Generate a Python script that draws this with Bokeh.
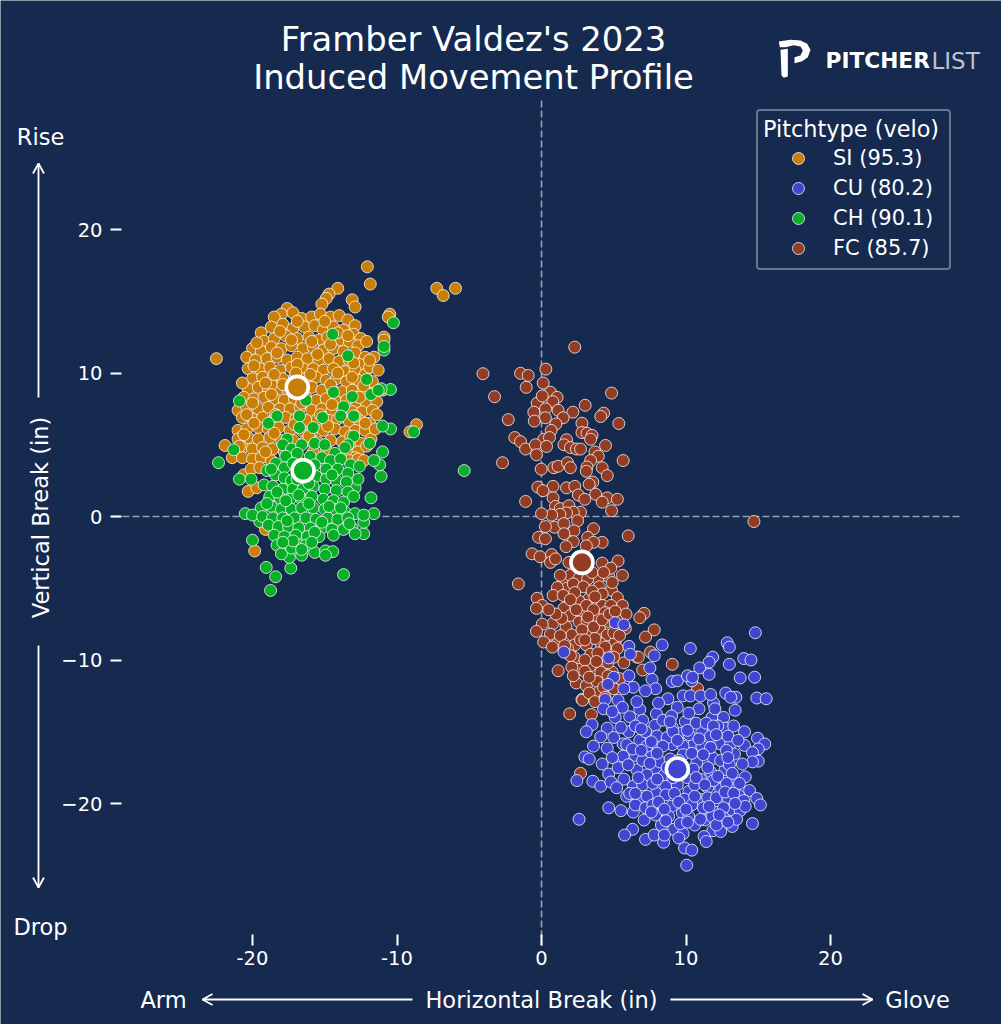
from bokeh.plotting import figure
from bokeh.models import Legend, LegendItem, FixedTicker
from bokeh.core.properties import value
from bokeh.embed import file_html
from bokeh.resources import INLINE

BG = "#152A4E"
SI_COLOR, CU_COLOR, CH_COLOR, FC_COLOR = "#C97E08", "#4046D2", "#08B028", "#923C24"

x_ticks = [-20, -10, 0, 10, 20]
y_ticks = [-20, -10, 0, 10, 20]
legend_title = "Pitchtype (velo)"
legend_labels = ["SI (95.3)", "CU (80.2)", "CH (90.1)", "FC (85.7)"]

si_mean = (-16.9, 9.0)
cu_mean = (9.4, -17.6)
ch_mean = (-16.5, 3.2)
fc_mean = (2.8, -3.2)

si_points = [
(-22.5,11.0),(-12.05,17.4),(-11.85,16.2),(-7.25,15.9),(-6.8,15.4),(-5.95,15.9),(-14.1,15.9),(-14.7,15.5),(-14.9,15.2),(-15.2,14.8),
(-13.1,15.1),(-12.9,14.6),(-10.5,14.1),(-10.6,13.9),(-10.9,12.5),(-10.9,12.3),(-8.65,6.4),(-9.1,5.9),(-21.9,4.95),(-19.85,-2.4),
(-20.3,1.75),(-20.6,2.9),(-17.6,14.5),(-18.0,14.1),(-17.2,14.2),(-18.5,13.9),(-16.6,13.8),(-15.9,13.9),(-15.3,14.1),(-14.6,13.9),
(-14.0,14.0),(-13.4,13.7),(-12.9,13.3),(-19.4,12.8),(-18.7,13.2),(-17.9,13.4),(-17.2,13.1),(-16.4,13.2),(-15.7,13.3),(-15.1,13.0),
(-14.4,13.2),(-13.7,13.0),(-13.0,12.7),(-12.5,12.4),(-19.2,12.2),(-18.5,12.4),(-17.7,12.6),(-16.9,12.4),(-16.1,12.5),(-15.4,12.3),
(-14.8,12.5),(-14.0,12.3),(-13.3,12.2),(-12.7,11.9),(-20.0,11.7),(-19.4,11.5),(-18.7,11.8),(-18.0,11.7),(-17.3,11.9),(-16.5,11.7),
(-15.8,11.8),(-15.1,11.6),(-14.4,11.7),(-13.7,11.5),(-12.9,11.4),(-12.2,11.1),(-20.4,11.1),(-19.8,10.9),(-19.0,11.0),(-18.3,11.1),
(-17.6,10.9),(-16.9,11.1),(-16.2,11.0),(-15.4,10.9),(-14.7,11.0),(-14.0,10.8),(-13.3,10.9),(-12.6,10.6),(-11.6,11.1),(-20.3,10.3),
(-19.5,10.3),(-18.8,10.4),(-18.1,10.2),(-17.3,10.4),(-16.5,10.3),(-15.8,10.3),(-15.1,10.2),(-14.4,10.3),(-13.6,10.1),(-12.9,10.2),
(-12.2,9.9),(-11.9,10.4),(-20.0,9.6),(-19.3,9.7),(-18.6,9.6),(-17.9,9.6),(-17.1,9.7),(-16.4,9.6),(-15.6,9.7),(-14.9,9.5),
(-14.2,9.6),(-13.5,9.4),(-12.7,9.5),(-12.0,9.2),(-20.3,8.9),(-19.6,9.0),(-18.9,8.9),(-18.2,8.9),(-17.5,8.8),(-16.7,8.8),
(-15.9,9.0),(-15.2,8.8),(-14.5,8.9),(-13.8,8.7),(-13.1,8.8),(-12.4,8.6),(-11.6,8.5),(-11.0,8.8),(-20.6,8.3),(-19.9,8.2),
(-19.2,8.3),(-18.5,8.2),(-17.8,8.1),(-17.1,8.2),(-16.3,8.3),(-15.6,8.1),(-14.9,8.2),(-14.2,8.0),(-13.5,8.1),(-12.8,8.0),
(-12.1,7.9),(-11.4,8.0),(-21.0,7.4),(-20.4,7.6),(-19.6,7.5),(-18.9,7.6),(-18.1,7.5),(-17.4,7.5),(-16.7,7.6),(-15.9,7.4),
(-15.2,7.5),(-14.5,7.4),(-13.8,7.5),(-13.1,7.3),(-12.4,7.3),(-11.7,7.4),(-20.7,6.9),(-20.0,6.8),(-19.3,6.9),(-18.5,6.8),
(-17.7,6.9),(-17.0,6.8),(-16.3,6.7),(-15.5,6.8),(-14.7,6.7),(-14.1,6.8),(-13.3,6.6),(-12.6,6.7),(-11.9,6.5),(-21.0,6.0),
(-20.4,6.1),(-19.6,6.2),(-18.9,6.1),(-18.2,6.2),(-17.4,6.0),(-16.6,6.0),(-15.9,5.9),(-15.1,6.0),(-14.3,6.1),(-13.6,5.9),
(-12.9,6.0),(-12.2,6.0),(-11.8,5.4),(-21.0,5.4),(-20.3,5.5),(-19.6,5.4),(-18.8,5.5),(-18.0,5.3),(-17.2,5.3),(-16.4,5.2),
(-15.5,5.2),(-14.6,5.3),(-13.8,5.2),(-13.1,5.2),(-12.5,5.1),(-20.7,4.8),(-20.0,4.7),(-19.3,4.8),(-18.6,4.7),(-17.8,4.5),
(-13.4,4.6),(-12.7,4.5),(-12.9,4.1),(-21.4,4.1),(-20.7,4.1),(-20.0,4.0),(-19.4,4.1),(-18.7,3.9),(-13.3,3.9),(-20.1,3.3),
(-19.5,3.4),(-19.7,2.0),(-18.8,1.3),(-19.1,-0.9),(-12.7,4.0),(-17.0,3.9),(-15.8,4.5),(-14.9,4.6),(-16.0,9.9),(-18.7,9.2),
(-18.1,12.9),(-16.9,13.6),(-15.0,13.6),(-14.1,12.8),(-13.4,12.6),(-12.1,12.2),(-11.9,10.9),(-11.3,10.2),(-19.7,12.1),(-17.3,12.3),
(-15.9,12.2),(-14.6,12.0),(-18.3,11.4),(-16.9,10.6),(-15.5,11.3),(-13.0,10.7),(-19.9,10.5),(-18.5,9.9),(-17.0,10.0),(-14.1,10.0),
(-13.1,9.7),(-11.7,9.4),(-20.7,9.3),(-19.1,9.3),(-17.9,9.2),(-14.6,9.2),(-12.3,9.1),(-20.0,7.9),(-18.7,8.5),(-16.6,7.9),
(-14.5,7.8),(-12.6,8.3),(-11.4,7.1),(-20.4,7.1),(-18.4,7.1),(-15.3,7.1),(-12.9,7.0),(-12.2,6.5),(-19.9,6.5),(-17.1,6.4),
(-14.8,6.3),(-11.5,6.1),(-20.6,5.7),(-18.5,5.8),(-16.1,5.6),(-13.2,5.6),(-12.1,4.9),(-20.9,4.9),(-19.1,4.5),(-12.3,3.9),
]

ch_points = [
(-22.35,3.75),(-5.35,3.2),(-10.25,13.5),(-14.45,12.7),(-10.9,11.6),(-10.9,11.85),(-10.45,8.85),(-11.1,8.9),(-13.7,-4.05),(-18.75,-5.15),
(-19.05,-3.55),(-18.4,-4.2),(-17.35,-3.6),(-20.0,-1.65),(-20.9,8.05),(-20.5,0.2),(-8.85,5.9),(-21.3,4.65),(-20.9,2.6),(-20.1,2.6),
(-19.5,-0.35),(-15.7,-2.5),(-14.95,-2.4),(-14.45,-2.45),(-14.95,-2.7),(-16.6,-2.7),(-17.45,-2.85),(-12.3,-1.2),(-13.1,-0.8),(-12.3,-0.4),
(-11.6,0.2),(-11.8,1.3),(-12.9,2.0),(-12.7,2.6),(-11.1,2.8),(-11.2,3.6),(-11.6,3.9),(-11.0,4.5),(-11.9,5.1),(-10.45,6.1),
(-11.0,6.3),(-11.8,8.5),(-11.3,8.8),(-12.1,9.55),(-13.4,11.2),(-14.4,8.65),(-13.1,8.35),(-13.7,7.65),(-13.9,7.0),(-13.0,7.0),
(-15.15,6.9),(-16.75,7.0),(-18.3,7.0),(-18.9,6.5),(-15.8,6.2),(-16.75,6.2),(-16.3,8.1),(-13.0,5.6),(-13.4,5.0),(-13.6,4.8),
(-17.6,5.4),(-17.9,5.0),(-17.3,4.7),(-16.6,5.0),(-15.7,5.1),(-15.0,5.0),(-14.3,4.4),(-17.7,4.2),(-16.9,4.4),(-16.0,4.2),
(-15.2,4.1),(-14.6,3.9),(-13.9,4.0),(-13.2,3.6),(-12.6,3.5),(-18.4,3.7),(-17.8,3.4),(-17.2,3.7),(-15.7,3.6),(-14.9,3.3),
(-14.1,3.3),(-13.4,3.0),(-19.0,3.2),(-18.4,2.9),(-17.8,2.7),(-17.3,2.5),(-15.6,2.8),(-14.9,2.6),(-14.2,2.5),(-13.5,2.4),
(-19.2,2.2),(-18.6,2.1),(-17.9,1.9),(-17.2,1.9),(-16.5,1.9),(-15.8,2.1),(-15.0,1.9),(-14.2,1.8),(-13.4,1.7),(-18.8,1.4),
(-18.1,1.3),(-17.4,1.2),(-16.6,1.2),(-15.9,1.4),(-15.1,1.2),(-14.4,1.1),(-13.7,1.0),(-19.4,0.6),(-18.7,0.7),(-18.0,0.5),
(-17.3,0.5),(-16.6,0.6),(-15.8,0.6),(-15.0,0.5),(-14.3,0.5),(-13.6,0.3),(-12.9,0.2),(-12.3,0.1),(-20.0,0.1),(-19.3,0.0),
(-18.6,-0.1),(-17.9,-0.1),(-17.1,-0.1),(-16.3,-0.1),(-15.6,-0.2),(-14.8,-0.1),(-14.1,-0.2),(-13.4,-0.1),(-18.9,-0.6),(-18.2,-0.7),
(-17.5,-0.7),(-16.8,-0.8),(-16.0,-0.8),(-15.2,-0.8),(-14.5,-0.9),(-13.7,-0.9),(-12.9,-1.2),(-18.5,-1.3),(-17.8,-1.4),(-17.0,-1.3),
(-16.2,-1.4),(-15.4,-1.4),(-18.3,-2.0),(-17.5,-2.1),(-16.8,-2.0),(-18.0,-2.6),(-17.3,-2.2),(-16.3,-2.0),(-15.7,-1.1),(-13.3,-0.5),
(-18.7,3.3),(-16.3,3.0),(-14.5,2.9),(-13.0,1.4),(-16.9,2.6),(-16.1,2.3),(-18.3,1.7),(-17.7,1.1),(-16.1,0.9),(-14.7,0.7),
(-19.0,0.9),(-17.6,-0.3),(-15.2,-0.4),(-14.4,-1.3),(-17.2,-1.7),(-16.6,-2.3),(-15.9,-1.8),(-17.9,-1.8),(-13.9,0.6),(-16.8,1.5),
]

fc_points = [
(2.3,11.8),(-4.05,9.95),(-1.45,9.98),(-0.92,9.83),(-1.06,9.0),(0.3,10.27),(0.12,9.3),(-3.25,8.35),(4.85,8.6),(0.62,8.66),
(1.08,8.3),(-0.3,7.9),(0.78,8.0),(0.05,8.4),(3.02,7.75),(4.3,7.2),(4.1,6.97),(2.17,7.27),(1.15,7.4),(-0.53,7.27),
(0.28,7.5),(1.5,6.88),(0.27,6.88),(-0.5,6.65),(-2.3,6.75),(1.0,6.45),(5.35,6.48),(2.8,6.5),(0.67,6.0),(-1.85,5.5),
(-1.45,5.22),(0.15,5.38),(-1.1,4.7),(-0.42,5.0),(0.55,5.5),(0.35,4.88),(-0.35,4.3),(1.73,5.35),(1.55,5.0),(2.0,4.8),
(2.42,4.7),(2.7,4.7),(2.8,5.85),(3.15,5.8),(3.5,5.65),(3.4,5.38),(4.43,4.95),(3.7,4.5),(3.93,4.2),(3.4,3.9),
(5.65,3.9),(-2.7,3.75),(-0.02,3.3),(0.85,3.4),(1.15,3.5),(1.8,3.75),(2.0,3.4),(3.15,3.45),(3.1,3.15),(4.2,3.4),
(4.55,2.85),(3.55,2.4),(3.3,2.25),(0.8,2.1),(-0.25,2.05),(0.1,1.8),(1.73,2.0),(2.3,2.1),(2.55,1.5),(0.8,1.3),
(-1.1,1.05),(3.75,1.55),(3.0,1.2),(4.55,1.3),(4.2,1.0),(5.25,1.2),(4.85,0.4),(0.97,0.7),(1.3,0.55),(1.9,0.75),
(2.7,0.3),(2.2,0.3),(1.73,0.25),(1.27,0.15),(0.7,0.1),(0.0,0.2),(2.5,-0.3),(0.9,-0.75),(1.55,-0.5),(0.27,-0.7),
(3.6,-0.85),(6.0,-1.35),(2.25,-1.0),(-0.2,-1.45),(0.27,-1.55),(1.55,-1.2),(3.2,-1.45),(4.2,-1.8),(3.6,-1.8),(2.2,-1.75),
(3.1,-2.05),(1.7,-2.1),(-0.65,-2.6),(-0.1,-2.8),(0.7,-2.65),(0.62,-3.2),(0.97,-2.95),(1.9,-3.2),(5.3,-3.1),(4.2,-3.25),
(5.6,-4.1),(4.65,-4.2),(3.9,-4.35),(1.55,-4.45),(2.0,-4.1),(2.6,-4.3),(-1.6,-4.7),(3.2,-4.35),(4.8,-3.6),(4.0,-4.9),
(4.85,-5.15),(1.73,-5.0),(1.1,-4.95),(0.8,-5.5),(1.5,-5.5),(3.3,-5.7),(2.6,-5.9),(-0.3,-5.7),(0.05,-6.2),(-0.35,-6.4),
(5.25,-5.65),(4.2,-5.4),(5.6,-6.2),(4.2,-6.2),(4.8,-6.2),(1.55,-6.4),(2.7,-6.55),(2.0,-6.9),(5.85,-6.8),(7.1,-6.75),
(6.8,-7.05),(3.8,-6.95),(2.6,-7.35),(3.15,-7.25),(0.8,-7.45),(0.05,-7.5),(1.7,-7.7),(-0.35,-8.0),(0.62,-8.2),(4.0,-7.8),
(5.8,-7.8),(7.8,-7.9),(7.2,-8.4),(4.55,-8.25),(2.1,-8.25),(3.3,-8.25),(0.15,-8.75),(1.05,-8.9),(2.3,-8.95),(3.1,-8.95),
(4.1,-8.85),(5.1,-8.75),(0.75,-9.1),(3.4,-9.6),(2.25,-9.8),(6.6,-9.8),(4.65,-9.55),(5.25,-9.2),(9.05,-10.3),(1.15,-10.75),
(2.6,-10.65),(4.1,-10.85),(3.4,-10.4),(2.4,-11.6),(3.1,-11.8),(3.85,-11.5),(3.95,-12.25),(2.8,-12.75),(1.95,-13.75),(2.85,-12.8),
(3.45,-13.8),(2.7,-17.9),(10.8,-12.0),(6.7,-9.8),(7.55,-9.45),(7.0,-10.7),(4.9,-10.85),(14.7,-0.35),(2.2,-4.7),(2.9,-4.9),
(3.5,-5.2),(2.3,-5.3),(3.7,-5.6),(2.0,-5.8),(3.1,-6.2),(3.6,-6.5),(4.4,-6.7),(2.4,-6.5),(3.2,-7.0),(4.6,-7.3),
(5.2,-7.2),(3.6,-7.7),(2.8,-7.9),(5.0,-8.1),(3.7,-8.5),(2.7,-8.6),(4.4,-9.1),(3.0,-10.0),(5.4,-8.3),(1.8,-9.2),
(2.0,-9.7),(3.9,-9.5),(4.6,-10.2),(5.0,-9.8),(5.7,-10.2),(2.1,-10.5),(3.0,-10.8),(4.6,-11.1),(5.4,-11.3),(2.2,-11.1),
(3.3,-11.2),(4.3,-11.9),(5.0,-12.0),(3.3,-12.3),(3.7,-12.9),(4.4,-12.6),(1.3,-8.3),(1.6,-9.0),(3.8,-10.1),(1.4,-7.1),
(3.0,-8.6),(4.2,-7.2),(4.7,-6.8),(1.0,-6.8),(5.1,-6.6),(0.5,-6.5),(4.9,-4.6),(1.3,-4.1),(3.5,-3.9),(4.3,-3.9),
]

cu_points = [
(14.8,-8.1),(12.85,-8.8),(13.0,-9.1),(10.3,-9.2),(8.35,-8.95),(6.05,-9.05),(6.15,-9.6),(7.8,-9.7),(5.1,-7.4),(5.7,-7.55),
(1.55,-9.45),(4.65,-9.85),(11.85,-9.8),(11.6,-10.15),(10.95,-10.55),(11.6,-11.0),(13.0,-10.3),(14.0,-9.9),(14.5,-10.0),(13.75,-11.25),
(14.75,-11.2),(14.9,-12.65),(15.55,-12.7),(12.75,-12.3),(13.45,-12.6),(13.1,-12.6),(13.4,-13.5),(5.0,-11.2),(4.6,-11.7),(6.05,-11.1),
(6.35,-11.9),(7.65,-11.35),(7.5,-10.55),(9.05,-11.5),(9.4,-11.45),(10.4,-11.45),(10.1,-11.1),(10.45,-11.2),(7.9,-12.0),(7.2,-12.15),
(5.7,-12.0),(8.75,-12.7),(4.4,-12.75),(5.3,-12.8),(9.8,-12.5),(10.3,-12.5),(11.0,-12.5),(11.9,-13.0),(11.7,-12.4),(6.8,-13.45),
(7.95,-13.75),(10.9,-13.4),(4.3,-13.4),(5.1,-14.0),(6.1,-13.95),(7.0,-14.2),(9.95,-14.3),(11.8,-14.0),(12.6,-14.0),(3.5,-14.5),
(3.1,-15.0),(4.55,-14.75),(7.85,-14.55),(9.05,-14.7),(11.1,-15.0),(12.75,-14.75),(14.05,-15.0),(14.95,-15.45),(15.45,-15.85),(15.0,-16.2),
(14.05,-15.95),(3.6,-16.0),(4.55,-16.15),(5.65,-15.85),(6.8,-15.6),(6.05,-15.0),(4.1,-15.35),(10.55,-15.85),(12.4,-15.85),(13.1,-15.8),
(3.0,-16.75),(3.3,-16.9),(4.2,-17.25),(5.65,-16.7),(6.5,-16.65),(7.65,-16.6),(9.05,-15.9),(11.9,-16.85),(13.35,-16.55),(14.6,-16.45),
(15.0,-17.05),(14.6,-17.1),(13.9,-17.25),(10.75,-17.15),(7.9,-17.6),(6.6,-17.65),(4.65,-17.95),(2.45,-18.4),(3.55,-18.45),(4.1,-18.8),
(4.8,-18.5),(5.7,-18.3),(6.35,-18.8),(14.1,-18.15),(12.7,-17.65),(11.0,-18.3),(13.3,-18.55),(11.5,-18.9),(12.4,-19.0),(14.4,-19.1),
(13.65,-19.45),(14.9,-19.65),(15.15,-20.1),(4.65,-20.3),(5.5,-20.5),(5.9,-19.5),(7.95,-19.3),(10.2,-19.15),(6.7,-19.7),(8.3,-20.45),
(9.75,-20.65),(10.95,-19.7),(12.0,-20.6),(13.2,-20.45),(13.75,-20.5),(6.35,-20.6),(7.1,-21.15),(8.3,-21.5),(2.6,-21.1),(9.15,-21.8),
(11.3,-21.15),(10.6,-21.5),(13.2,-21.6),(14.6,-21.4),(11.85,-21.9),(12.4,-21.95),(6.3,-21.8),(5.75,-22.2),(7.2,-22.5),(7.8,-22.2),
(8.45,-22.7),(8.5,-22.2),(9.8,-22.1),(11.25,-22.3),(11.4,-22.65),(9.9,-23.1),(10.4,-23.25),(10.05,-24.3),(6.6,-12.9),(8.1,-13.0),
(9.4,-13.3),(10.2,-13.7),(12.0,-13.4),(5.6,-13.3),(4.9,-13.6),(6.5,-14.6),(5.5,-14.7),(8.4,-14.2),(9.0,-13.9),(10.7,-14.4),
(11.4,-14.4),(12.2,-14.6),(13.3,-14.6),(7.2,-15.0),(8.0,-15.3),(8.7,-15.4),(9.7,-15.1),(10.2,-15.2),(11.7,-15.3),(12.9,-15.3),
(13.6,-15.6),(5.0,-15.4),(5.9,-15.9),(6.3,-16.2),(7.3,-16.0),(8.4,-16.0),(9.8,-16.0),(11.1,-16.0),(11.7,-16.1),(12.8,-16.3),
(4.9,-16.8),(7.0,-17.0),(8.2,-17.1),(8.9,-16.9),(9.8,-16.6),(10.4,-16.5),(12.4,-17.0),(13.0,-17.3),(5.3,-17.5),(6.0,-17.3),
(7.3,-18.0),(8.5,-18.0),(10.1,-18.2),(11.7,-17.8),(13.2,-17.9),(5.2,-18.9),(7.0,-18.7),(7.7,-18.6),(8.6,-18.8),(9.4,-18.7),
(10.6,-18.7),(11.9,-18.4),(12.8,-18.6),(6.1,-19.3),(7.3,-19.5),(8.6,-19.4),(9.2,-19.3),(9.9,-19.7),(11.5,-19.6),(12.1,-19.6),
(12.9,-19.6),(14.0,-19.8),(6.5,-20.1),(7.2,-20.3),(7.7,-20.1),(9.0,-20.2),(10.4,-20.1),(11.2,-20.3),(12.6,-20.3),(14.1,-20.2),
(7.9,-20.8),(8.8,-20.9),(10.2,-20.9),(11.8,-20.9),(12.6,-21.0),(13.5,-21.1),(9.6,-21.4),(12.1,-21.5),(9.5,-22.4),(9.1,-15.0),
(6.9,-14.8),(8.9,-14.3),(10.1,-14.9),(11.9,-14.6),(7.6,-15.7),(9.4,-15.6),(10.9,-15.5),(12.1,-15.2),(6.9,-16.3),(8.0,-16.5),
(9.5,-17.0),(11.2,-16.6),(12.9,-16.8),(7.5,-17.2),(8.7,-17.5),(10.5,-17.6),(11.5,-17.5),(12.2,-18.1),(6.7,-18.2),(8.0,-18.3),
(9.1,-18.2),(10.7,-18.2),(11.3,-18.7),(13.7,-18.6),(6.5,-19.3),(8.1,-19.9),(9.5,-19.9),(10.6,-19.5),(12.7,-19.2),(13.3,-19.3),
(7.6,-20.6),(8.5,-20.4),(10.0,-20.4),(11.6,-20.2),(12.3,-20.8),(13.4,-20.0),(8.6,-21.2),(10.1,-21.3),(11.0,-21.1),(12.9,-21.3),
]


def fx(px):
    return (px - 541.0) / 14.45


def fy(py):
    return (516.0 - py) / 14.35


p = figure(width=1001, height=1024, output_backend="svg", toolbar_location=None,
           x_range=(fx(0), fx(1001)), y_range=(fy(1024), fy(0)),
           background_fill_color=BG, border_fill_color=BG,
           min_border=0, min_border_left=0, min_border_right=0, min_border_top=0, min_border_bottom=0)
p.grid.visible = False
p.outline_line_color = None

label_font = "DejaVu Sans"
p.xaxis[0].fixed_location = fy(945)
p.yaxis[0].fixed_location = fx(110)
for ax, ticks, overrides, standoff in (
        (p.xaxis[0], x_ticks, {-20: "-20", -10: "-10"}, 5),
        (p.yaxis[0], y_ticks, {-20: "\u221220", -10: "\u221210"}, 8)):
    ax.ticker = FixedTicker(ticks=ticks)
    ax.major_label_overrides = overrides
    ax.axis_line_color = None
    ax.minor_tick_line_color = None
    ax.major_tick_in = 11
    ax.major_tick_out = 0
    ax.major_tick_line_color = "white"
    ax.major_tick_line_width = 2
    ax.major_label_text_color = "white"
    ax.major_label_text_font = label_font
    ax.major_label_text_font_size = "19.5px"
    ax.major_label_standoff = standoff

p.segment([0, fx(112)], [fy(100), 0], [0, fx(960)], [fy(945), 0], line_color="white", line_alpha=0.55,
          line_width=1.6, line_dash="7 3", level="underlay")


def draw(points, color):
    xs = [a for a, _ in points]
    ys = [b for _, b in points]
    return p.scatter(xs, ys, size=12, fill_color=color, line_color="white",
                     line_alpha=0.75, line_width=1.0)


r_si = draw(si_points, SI_COLOR)
r_fc = draw(fc_points, FC_COLOR)
r_ch = draw(ch_points, CH_COLOR)
r_cu = draw(cu_points, CU_COLOR)

for mean, color in ((si_mean, SI_COLOR), (cu_mean, CU_COLOR), (ch_mean, CH_COLOR), (fc_mean, FC_COLOR)):
    p.scatter([mean[0]], [mean[1]], size=22, fill_color=color, line_color="white", line_width=3.6)

legend = Legend(items=[LegendItem(label=t, renderers=[r]) for t, r in
                       zip(legend_labels, (r_si, r_cu, r_ch, r_fc))],
                title=legend_title, location=(756, 754), orientation="vertical",
                background_fill_color=BG, background_fill_alpha=1.0,
                border_line_color="#B8BFCB", border_line_width=2,
                label_text_color="white", label_text_font=label_font, label_text_font_size="21px",
                title_text_color="white", title_text_font=label_font, title_text_font_size="22.4px",
                title_text_font_style="normal", title_standoff=1,
                glyph_width=70, glyph_height=30, label_height=30, label_standoff=0, label_width=111,
                spacing=0, padding=5, margin=0)
if "border_radius" in Legend.properties():
    legend.border_radius = 4
p.add_layout(legend)


def text(px, py, s, size, angle=0.0, font=label_font, style="normal", align="center", alpha=1.0):
    p.text([fx(px)], [fy(py)], text=[s], text_color="white", text_alpha=alpha,
           text_font=value(font), text_font_size=size, text_font_style=style,
           text_align=align, text_baseline="middle", angle=angle)


text(473, 38.5, "Framber Valdez's 2023", "33.8px")
text(473, 76.5, "Induced Movement Profile", "33.8px")
text(40, 136, "Rise", "22.5px")
text(40, 926, "Drop", "22.5px")
text(40, 517, "Vertical Break (in)", "22.5px", angle=1.5708)
text(163, 999, "Arm", "22.5px")
text(541, 999, "Horizontal Break (in)", "22.5px")
text(917, 999, "Glove", "22.5px")
text(825, 60, "PITCHER", "21.7px", style="bold", align="left")
text(931, 60, "LIST", "23px", align="left", alpha=0.72)

# Arrows: shaft and open vee head
for x0, y0, x1, y1 in ((38, 397, 38, 163), (38, 645, 38, 887), (412, 999, 202, 999), (670, 999, 872, 999)):
    dx = (x1 > x0) - (x1 < x0)
    dy = (y1 > y0) - (y1 < y0)
    p.line([fx(x0), fx(x1)], [fy(y0), fy(y1)], line_color="white", line_width=1.8)
    p.line([fx(x1 - 10 * dx - 5.5 * dy), fx(x1), fx(x1 - 10 * dx + 5.5 * dy)],
           [fy(y1 - 10 * dy - 5.5 * dx), fy(y1), fy(y1 - 10 * dy + 5.5 * dx)],
           line_color="white", line_width=1.8)

# Pitcher List mark
for shape in (
    [(25, 33), (60, 28), (90, 30), (110, 40), (120, 58), (112, 80), (95, 92), (72, 98), (72, 80), (90, 75),
     (97, 60), (90, 48), (70, 44), (45, 50), (28, 50)],
    [(30, 58), (52, 55), (52, 138), (40, 142), (33, 135)],
):
    p.patch([fx(770 + a / 3) for a, _ in shape], [fy(30 + b / 3) for _, b in shape],
            fill_color="white", line_color=None)

open("out.html", "w").write(file_html(p, INLINE))
